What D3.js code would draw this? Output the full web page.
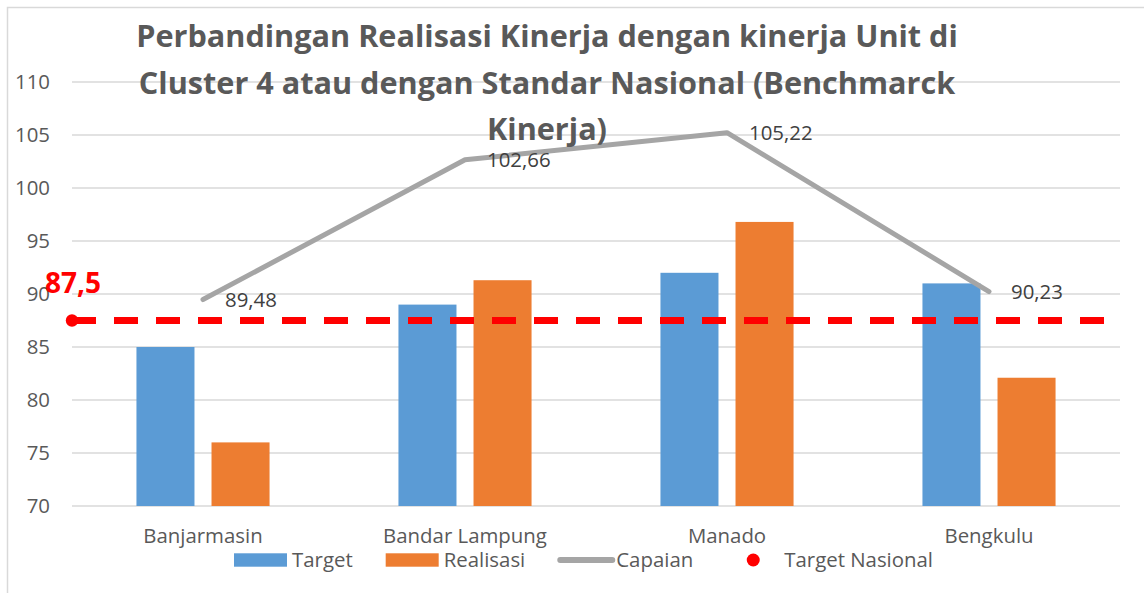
<!DOCTYPE html>
<html>
<head>
<meta charset="utf-8">
<script src="https://cdn.jsdelivr.net/npm/d3@7"></script>
<style>
  html, body { margin: 0; padding: 0; background: #fff; }
  svg { display: block; }
  text { font-family: "Open Sans", "Noto Sans", sans-serif; }
</style>
</head>
<body>
<svg id="chart" width="1144" height="593"></svg>
<script>
// ---- data ----
const categories = ["Banjarmasin", "Bandar Lampung", "Manado", "Bengkulu"];
const targetValues = [85, 89, 92, 91];
const realisasiValues = [76, 91.3, 96.8, 82.1];
const capaianValues = [89.48, 102.66, 105.22, 90.23];
const capaianLabels = ["89,48", "102,66", "105,22", "90,23"];
const targetNasional = 87.5;
const targetNasionalLabel = "87,5";
const yTicks = [70, 75, 80, 85, 90, 95, 100, 105, 110];
const seriesNames = ["Target", "Realisasi"];
const legendLabels = ["Target", "Realisasi", "Capaian", "Target Nasional"];
const titleLines = [
  "Perbandingan Realisasi Kinerja dengan kinerja Unit di",
  "Cluster 4 atau dengan Standar Nasional (Benchmarck",
  "Kinerja)"
];

// ---- styles ----
const colors = { Target: "#5b9bd5", Realisasi: "#ed7d31", Capaian: "#a5a5a5", Nasional: "#ff0000" };
const textColor = "#595959";

const svg = d3.select("#chart");
const plot = { left: 72, right: 1120, top: 82, bottom: 506 };

// frame
svg.append("rect").attr("x", 7.5).attr("y", 7.5).attr("width", 1160).attr("height", 620)
  .attr("fill", "#fff").attr("stroke", "#d9d9d9").attr("stroke-width", 1.5);

const y = d3.scaleLinear().domain([70, 110]).range([plot.bottom, plot.top]);
const x0 = d3.scaleBand().domain(categories).range([plot.left, plot.right])
  .paddingInner(0.492).paddingOuter(0.246);
const x1 = d3.scaleBand().domain(seriesNames).range([0, x0.bandwidth()]).paddingInner(0.227);

// gridlines
svg.append("g").selectAll("line").data(yTicks).join("line")
  .attr("x1", plot.left).attr("x2", plot.right)
  .attr("y1", d => y(d)).attr("y2", d => y(d))
  .attr("stroke", "#d9d9d9").attr("stroke-width", 1.4);

// y axis labels
const yAxis = d3.axisLeft(y).tickValues(yTicks).tickSize(0).tickPadding(0).tickFormat(d3.format("d"));
const gy = svg.append("g").attr("transform", "translate(50,0)").call(yAxis);
gy.select(".domain").remove();
gy.selectAll("text").attr("font-size", 20.4).attr("fill", textColor)
  .attr("font-family", "Open Sans").attr("dy", "0.34em");

// bars
const barData = categories.map((c, i) => ({ c, vals: [
  { s: "Target", v: targetValues[i] }, { s: "Realisasi", v: realisasiValues[i] }] }));
const groups = svg.append("g").selectAll("g").data(barData).join("g")
  .attr("transform", d => `translate(${x0(d.c)},0)`);
groups.selectAll("rect").data(d => d.vals).join("rect")
  .attr("x", d => x1(d.s)).attr("width", x1.bandwidth())
  .attr("y", d => y(d.v)).attr("height", d => y(70) - y(d.v))
  .attr("fill", d => colors[d.s]);

// category labels
const xAxis = d3.axisBottom(x0).tickSize(0).tickPadding(0);
const gx = svg.append("g").attr("transform", `translate(0,${plot.bottom})`).call(xAxis);
gx.select(".domain").remove();
gx.selectAll("text").attr("font-size", 20.4).attr("fill", textColor)
  .attr("font-family", "Open Sans").attr("dy", null).attr("y", 37);

// target nasional dashed line
const cx = c => x0(c) + x0.bandwidth() / 2;
svg.append("line")
  .attr("x1", plot.left).attr("x2", plot.right)
  .attr("y1", y(targetNasional)).attr("y2", y(targetNasional))
  .attr("stroke", colors.Nasional).attr("stroke-width", 7)
  .attr("stroke-dasharray", "24,18");
svg.append("circle").attr("cx", plot.left).attr("cy", y(targetNasional)).attr("r", 6.2)
  .attr("fill", colors.Nasional);
svg.append("text").attr("x", plot.left - 27).attr("y", y(targetNasional) - 28)
  .attr("font-size", 28).attr("font-weight", "bold").attr("fill", colors.Nasional)
  .text(targetNasionalLabel);

// capaian line
const line = d3.line().x((d, i) => cx(categories[i])).y(d => y(d));
svg.append("path").datum(capaianValues).attr("d", line)
  .attr("fill", "none").attr("stroke", colors.Capaian).attr("stroke-width", 5)
  .attr("stroke-linejoin", "round").attr("stroke-linecap", "round");
svg.append("g").selectAll("text").data(capaianValues).join("text")
  .attr("x", (d, i) => cx(categories[i]) + 22).attr("y", d => y(d) + 7.5)
  .attr("font-size", 20.4).attr("fill", "#404040")
  .text((d, i) => capaianLabels[i]);

// title
const title = svg.append("g");
const tl = title.selectAll("text").data(titleLines).join("text")
  .attr("x", 547).attr("y", (d, i) => 47 + i * 46.5)
  .attr("text-anchor", "middle").attr("font-weight", "bold").attr("fill", textColor)
  .attr("font-size", 28).text(d => d);
const w0 = tl.nodes()[0].getComputedTextLength();
tl.attr("font-size", 28 * 822 / w0);

// legend
const lg = svg.append("g");
let lx = 234;
const ly = 560;
legendLabels.forEach((lab, i) => {
  if (i < 2) {
    lg.append("rect").attr("x", lx).attr("y", ly - 6.7).attr("width", 53).attr("height", 13.4)
      .attr("fill", colors[lab]);
  } else if (i === 2) {
    lg.append("line").attr("x1", lx + 2).attr("x2", lx + 54).attr("y1", ly).attr("y2", ly)
      .attr("stroke", colors.Capaian).attr("stroke-width", 6).attr("stroke-linecap", "round");
  } else {
    lg.append("circle").attr("cx", lx + 27).attr("cy", ly).attr("r", 6.5).attr("fill", colors.Nasional);
  }
  const t = lg.append("text").attr("x", lx + 58).attr("y", ly + 7)
    .attr("font-size", 20.4).attr("fill", textColor).text(lab);
  lx = lx + 58 + t.node().getComputedTextLength() + 33;
});
</script>
</body>
</html>
